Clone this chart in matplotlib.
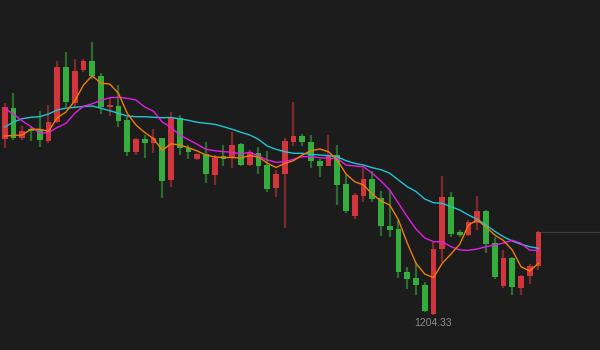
import matplotlib
matplotlib.use("Agg")
import matplotlib.pyplot as plt
import numpy as np

# daily OHLC, red = up, green = down
opens = [1380.0, 1411.6, 1381.6, 1390.0, 1389.3, 1378.3, 1397.0, 1452.0, 1416.0, 1449.3,
         1458.6, 1443.3, 1412.0, 1413.6, 1399.3, 1367.0, 1380.0, 1376.0, 1381.0, 1339.3,
         1401.0, 1371.0, 1360.3, 1365.0, 1344.3, 1363.3, 1361.6, 1375.3, 1354.3, 1366.0,
         1354.3, 1331.6, 1345.0, 1377.0, 1383.6, 1377.6, 1358.6, 1353.6, 1364.3, 1335.0,
         1303.3, 1323.3, 1340.0, 1321.3, 1293.3, 1290.0, 1247.6, 1241.0, 1234.3, 1205.3,
         1270.3, 1322.6, 1287.0, 1284.3, 1296.0, 1308.6, 1276.0, 1233.3, 1261.0, 1231.0,
         1243.3, 1253.3]
highs = [1416.3, 1426.0, 1393.6, 1392.3, 1408.3, 1414.3, 1458.3, 1467.6, 1460.3, 1460.3,
         1477.3, 1446.6, 1421.6, 1434.3, 1402.6, 1381.6, 1384.3, 1390.0, 1381.3, 1407.6,
         1404.3, 1374.3, 1366.3, 1377.0, 1364.3, 1374.3, 1387.6, 1376.3, 1369.3, 1372.6,
         1368.3, 1349.3, 1381.6, 1417.0, 1385.0, 1384.3, 1360.3, 1384.3, 1374.3, 1344.3,
         1326.0, 1351.6, 1348.6, 1328.3, 1329.3, 1299.3, 1252.6, 1257.6, 1237.6, 1277.6,
         1343.3, 1327.6, 1289.3, 1299.3, 1323.3, 1309.3, 1282.6, 1269.3, 1262.3, 1244.3,
         1255.3, 1288.6]
lows = [1371.3, 1379.3, 1379.3, 1378.3, 1372.3, 1376.0, 1396.3, 1412.6, 1412.6, 1447.3,
        1440.0, 1405.0, 1403.6, 1392.6, 1363.3, 1364.3, 1361.6, 1366.6, 1321.6, 1332.6,
        1364.3, 1360.0, 1359.3, 1336.6, 1334.3, 1353.6, 1351.6, 1353.3, 1353.6, 1345.3,
        1327.0, 1322.6, 1291.0, 1373.6, 1373.3, 1351.6, 1342.6, 1353.3, 1314.3, 1306.0,
        1300.0, 1317.6, 1317.6, 1283.3, 1282.6, 1241.6, 1230.0, 1224.3, 1207.6, 1204.33,
        1257.6, 1282.6, 1282.3, 1283.3, 1289.3, 1266.0, 1240.3, 1231.6, 1224.3, 1224.3,
        1235.3, 1249.3]
closes = [1412.6, 1381.6, 1388.3, 1388.6, 1379.3, 1397.0, 1452.0, 1417.6, 1448.6, 1458.8,
          1443.3, 1412.6, 1414.3, 1398.3, 1367.6, 1380.0, 1376.0, 1381.0, 1338.3, 1401.0,
          1371.0, 1367.0, 1365.0, 1345.0, 1361.6, 1360.3, 1374.3, 1354.3, 1367.0, 1353.3,
          1330.0, 1345.3, 1378.6, 1383.6, 1377.0, 1358.6, 1353.3, 1364.3, 1334.3, 1308.3,
          1324.3, 1340.0, 1320.0, 1293.3, 1289.3, 1247.6, 1240.0, 1234.3, 1208.3, 1270.6,
          1322.6, 1285.3, 1284.3, 1297.6, 1308.6, 1275.3, 1242.0, 1261.0, 1232.0, 1243.3,
          1253.3, 1287.6]

ma5 = [1383.3, 1383.8, 1384.3, 1390.0, 1390.0, 1388.0, 1401.5, 1407.3, 1418.3, 1434.3,
       1443.6, 1436.0, 1435.3, 1426.0, 1406.0, 1394.3, 1386.8, 1380.7, 1369.0, 1375.5,
       1374.3, 1371.6, 1368.3, 1364.3, 1362.3, 1361.8, 1361.8, 1361.3, 1363.8, 1362.3,
       1356.3, 1351.8, 1355.8, 1358.6, 1364.3, 1368.6, 1370.3, 1367.6, 1359.3, 1345.3,
       1337.6, 1334.3, 1325.3, 1318.3, 1314.3, 1299.3, 1276.3, 1256.0, 1245.3, 1241.6,
       1256.0, 1265.3, 1275.0, 1294.3, 1299.3, 1292.3, 1284.3, 1278.8, 1269.3, 1252.6,
       1248.3, 1256.0]
ma10 = [1410.8, 1405.3, 1398.3, 1392.8, 1385.8, 1386.8, 1391.8, 1396.0, 1406.0, 1413.0,
        1415.5, 1419.0, 1421.6, 1422.0, 1421.0, 1419.3, 1412.3, 1408.1, 1397.3, 1391.8,
        1384.3, 1379.7, 1375.0, 1370.0, 1368.6, 1367.6, 1367.0, 1365.3, 1367.0, 1363.3,
        1359.3, 1357.0, 1357.6, 1360.0, 1362.6, 1362.6, 1361.6, 1361.0, 1361.0, 1354.3,
        1353.3, 1352.6, 1346.0, 1338.3, 1329.3, 1316.0, 1302.6, 1290.3, 1281.3, 1277.6,
        1277.6, 1272.6, 1269.3, 1269.0, 1270.3, 1272.6, 1274.3, 1276.3, 1279.0, 1276.0,
        1269.0, 1269.0]
ma20 = [1392.3, 1397.3, 1400.6, 1402.0, 1402.6, 1405.3, 1409.3, 1411.1, 1412.0, 1412.8,
        1413.3, 1411.0, 1408.6, 1406.0, 1403.3, 1402.6, 1402.6, 1402.0, 1401.6, 1401.8,
        1400.5, 1399.0, 1397.0, 1396.0, 1395.0, 1392.6, 1390.0, 1387.0, 1384.3, 1380.0,
        1373.3, 1370.0, 1367.6, 1366.0, 1366.0, 1365.0, 1364.3, 1363.6, 1362.6, 1358.6,
        1356.0, 1354.3, 1351.6, 1349.6, 1346.0, 1339.3, 1332.6, 1327.8, 1320.3, 1316.6,
        1316.0, 1312.6, 1309.3, 1304.3, 1300.0, 1294.3, 1288.0, 1282.6, 1278.3, 1275.0,
        1272.6, 1271.0]

bg = '#1c1c1c'
up_body, up_wick = '#d2353b', '#7e2a2c'
dn_body, dn_wick = '#35ad3c', '#2d6a2f'

fig = plt.figure(figsize=(6, 3.5), dpi=100, facecolor=bg)
ax = fig.add_axes([0, 0, 1, 1])
ax.set_facecolor(bg)

x = np.arange(len(closes))
o = np.array(opens)
c = np.array(closes)
up = c >= o
body_lo = np.minimum(o, c)
body_h = np.maximum(np.abs(c - o), 0.8)

ax.vlines(x[up], np.array(lows)[up], np.array(highs)[up], color=up_wick, lw=1.6, zorder=1)
ax.vlines(x[~up], np.array(lows)[~up], np.array(highs)[~up], color=dn_wick, lw=1.6, zorder=1)
ax.bar(x[up], body_h[up], bottom=body_lo[up], width=0.68, color=up_body, lw=0, zorder=2)
ax.bar(x[~up], body_h[~up], bottom=body_lo[~up], width=0.68, color=dn_body, lw=0, zorder=2)

ax.plot(x, ma20, color='#22c4d2', lw=1.0, zorder=3)
ax.plot(x, ma10, color='#e21ee2', lw=1.0, zorder=3)
ax.plot(x, ma5, color='#f07c0c', lw=1.0, zorder=3)

# last price line
ax.plot([x[-1] + 0.2, 70], [closes[-1], closes[-1]], color='#3c3c3c', lw=0.9, zorder=0)

# lowest low label
imin = int(np.argmin(lows))
ax.annotate('%.2f' % lows[imin], (x[imin], lows[imin]), xytext=(0, -2),
            textcoords='offset points', ha='center', va='top', color='#8c8c8c',
            fontsize=7.5, family=['Liberation Sans', 'DejaVu Sans'])

ax.set_xlim(-0.54, 68.03)
ax.set_ylim(1169.3, 1519.3)
ax.axis('off')

fig.savefig('out.png', dpi=100, facecolor=bg)
